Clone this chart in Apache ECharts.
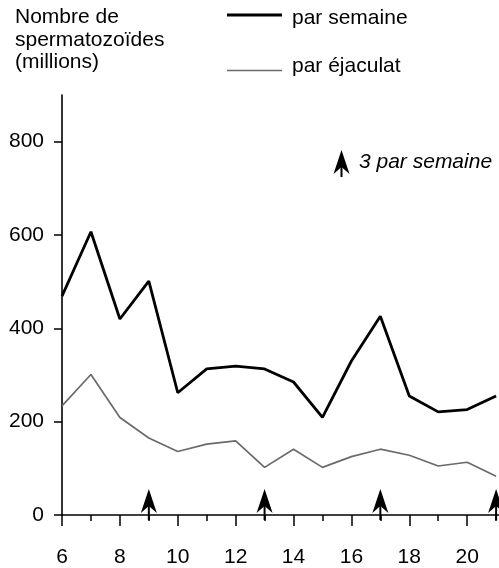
<!DOCTYPE html>
<html>
<head>
<meta charset="utf-8">
<script src="https://cdn.jsdelivr.net/npm/echarts@6/dist/echarts.min.js"></script>
<style>html,body{margin:0;padding:0;background:#fff}#c{width:499px;height:568px}</style>
</head>
<body>
<div id="c"></div>
<script>
var weeks = [6,7,8,9,10,11,12,13,14,15,16,17,18,19,20,21];
var parSemaine = [469,607,420,501,262,313,319,313,285,209,330,426,255,221,226,255];
var parEjaculat = [234,301,209,165,136,152,159,102,141,102,125,141,128,105,113,83];
var arrowWeeks = [9,13,17,21];
var yTicks = [0,200,400,600,800];
var xLabelTicks = [6,8,10,12,14,16,18,20];
var xMinorTicks = [7,9,11,13,15,17,19,21];

var FONT = '"Liberation Sans", Arial, Helvetica, sans-serif';
var FS = 21;
var chart = echarts.init(document.getElementById('c'), null, {renderer: 'canvas'});

function pairs(xs, ys) { return xs.map(function (x, i) { return [x, ys[i]]; }); }

function arrowShape(x, yBase, h) {
  var tip = yBase - h;
  return [
    {type: 'polygon', shape: {points: [[x, tip], [x + 8, tip + 24], [x, tip + 17], [x - 8, tip + 24]]}, style: {fill: '#000'}},
    {type: 'line', shape: {x1: x, y1: tip + 15, x2: x, y2: yBase}, style: {stroke: '#000', lineWidth: 2}}
  ];
}

var option = {
  animation: false,
  grid: {left: 62, right: 0, top: 95, bottom: 52, containLabel: false},
  xAxis: [{
    type: 'value', min: 6, max: 21.1, position: 'bottom',
    axisLine: {show: true, onZero: false, lineStyle: {color: '#000', width: 1.6}},
    axisTick: {show: true, customValues: xMinorTicks, length: 6, lineStyle: {color: '#000', width: 1.5}},
    axisLabel: {show: true, customValues: xLabelTicks, margin: 32, color: '#000', fontSize: FS, fontFamily: FONT},
    splitLine: {show: false}
  }, {
    type: 'value', min: 6, max: 21.1, position: 'bottom',
    axisLine: {show: false},
    axisTick: {show: true, customValues: xLabelTicks, length: 11, lineStyle: {color: '#000', width: 1.5}},
    axisLabel: {show: false},
    splitLine: {show: false}
  }],
  yAxis: {
    type: 'value', min: 0, max: 900,
    axisLine: {show: true, lineStyle: {color: '#000', width: 1.6}},
    axisTick: {show: true, customValues: yTicks, length: 8, lineStyle: {color: '#000', width: 1.5}},
    axisLabel: {show: true, customValues: yTicks, margin: 18, color: '#000', fontSize: FS, fontFamily: FONT},
    splitLine: {show: false}
  },
  series: [{
    name: 'par semaine', type: 'line', xAxisIndex: 0, data: pairs(weeks, parSemaine),
    showSymbol: false, symbol: 'none', lineStyle: {color: '#000', width: 2.8}, z: 3
  }, {
    name: 'par éjaculat', type: 'line', xAxisIndex: 0, data: pairs(weeks, parEjaculat),
    showSymbol: false, symbol: 'none', lineStyle: {color: '#6a6a6a', width: 1.7}, z: 2
  }, {
    type: 'custom', xAxisIndex: 0, data: arrowWeeks.map(function (w) { return [w, 0]; }),
    renderItem: function (params, api) {
      var p = api.coord([api.value(0), api.value(1)]);
      return {type: 'group', children: arrowShape(p[0], p[1] + 5, 31)};
    }, z: 4, clip: false
  }],
  graphic: [
    {type: 'text', left: 15, top: 7, style: {text: 'Nombre de', font: FS + 'px ' + FONT, fill: '#000'}},
    {type: 'text', left: 15, top: 30, style: {text: 'spermatozoïdes', font: FS + 'px ' + FONT, fill: '#000'}},
    {type: 'text', left: 15, top: 52, style: {text: '(millions)', font: FS + 'px ' + FONT, fill: '#000'}},
    {type: 'line', shape: {x1: 227, y1: 15, x2: 282, y2: 15}, style: {stroke: '#000', lineWidth: 2.8}},
    {type: 'text', left: 292, top: 8, style: {text: 'par semaine', font: FS + 'px ' + FONT, fill: '#000'}},
    {type: 'line', shape: {x1: 227, y1: 70.5, x2: 282, y2: 70.5}, style: {stroke: '#6a6a6a', lineWidth: 1.7}},
    {type: 'text', left: 292, top: 56, style: {text: 'par éjaculat', font: FS + 'px ' + FONT, fill: '#000'}},
    {type: 'group', children: arrowShape(341.5, 177, 27)},
    {type: 'text', left: 359, top: 152, style: {text: '3 par semaine', font: 'italic ' + FS + 'px ' + FONT, fill: '#000'}}
  ]
};
chart.setOption(option);
</script>
</body>
</html>
